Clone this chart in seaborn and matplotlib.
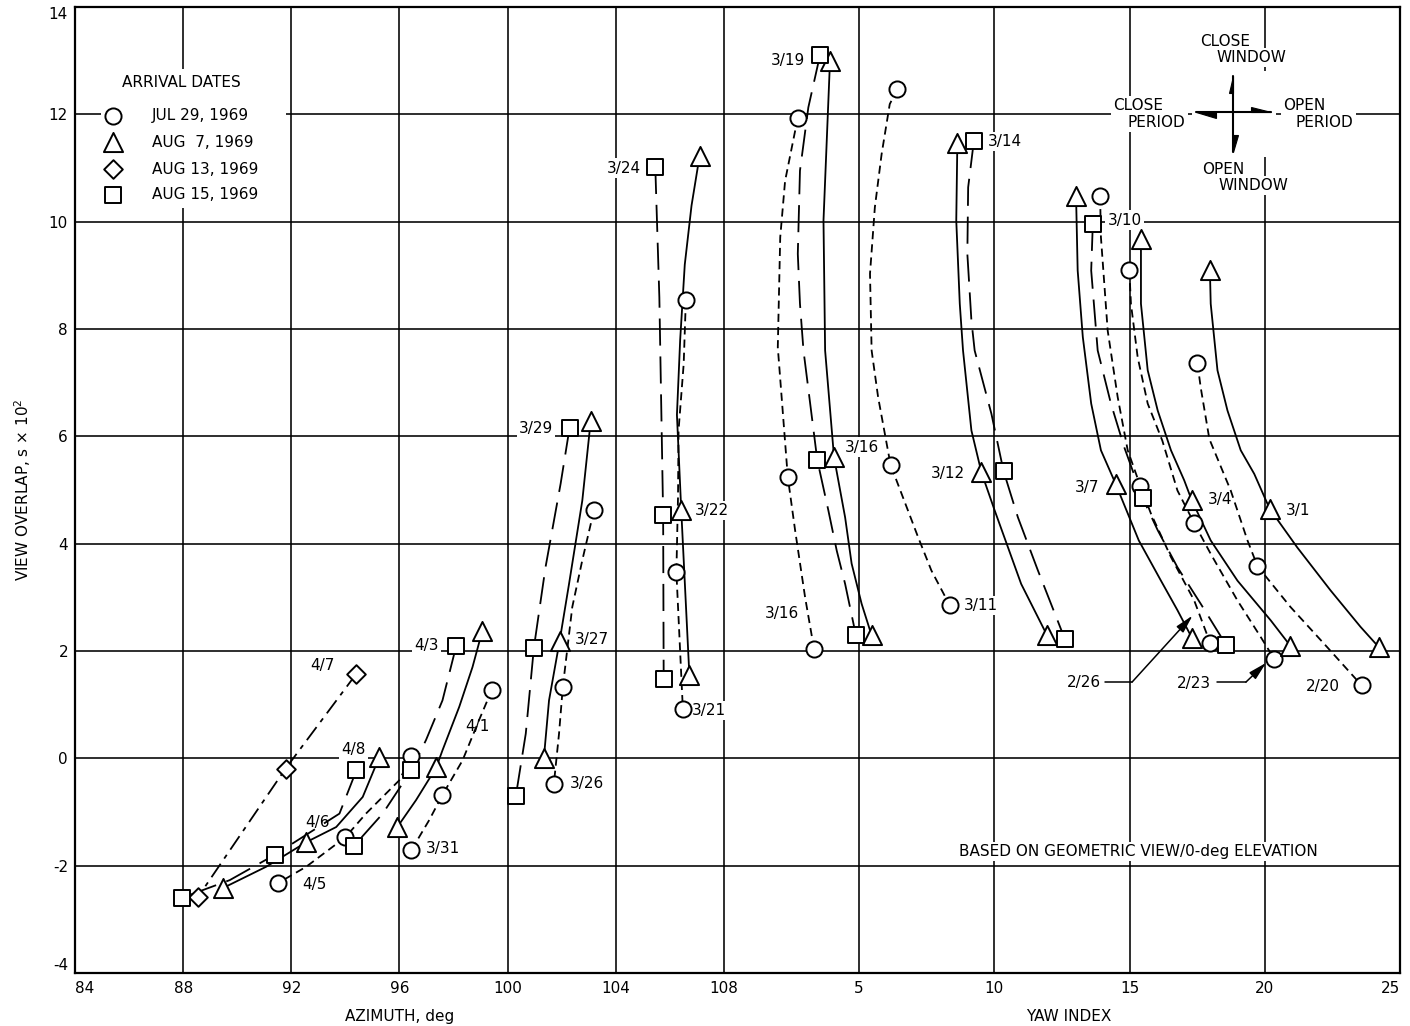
import matplotlib
matplotlib.use("Agg")
import matplotlib.pyplot as plt
import numpy as np
import pandas as pd
import seaborn as sns
from matplotlib.patches import Polygon, Rectangle

# ---------------- data (x: azimuth deg 84..108, then 108 + yaw index) ----------------
SERIES_NAMES = ["JUL 29, 1969", "AUG  7, 1969", "AUG 13, 1969", "AUG 15, 1969"]
SERIES_MARKERS = ["o", "^", "D", "s"]
MARKER_SIZES = [135, 190, 90, 120]
DASHES = {"JUL 29, 1969": (4.5, 2.8), "AUG  7, 1969": "",
          "AUG 13, 1969": (9, 3.5, 2.5, 3.5), "AUG 15, 1969": (15, 6)}

# each curve: (x, y, marked)
JUL29_CURVES = [
    [(96.44, 0.04, 1), (95.99, -0.41, 0), (94.76, -1.03, 0), (94.00, -1.47, 1), (92.55, -2.02, 0), (91.49, -2.33, 1)],
    [(99.42, 1.28, 1), (98.94, 0.71, 0), (98.33, -0.04, 0), (97.58, -0.69, 1), (97.10, -1.15, 0), (96.44, -1.71, 1)],
    [(103.19, 4.62, 1), (102.76, 3.69, 0), (102.39, 2.82, 0), (102.04, 1.33, 1), (101.90, 0.46, 0), (101.71, -0.47, 1)],
    [(106.59, 8.54, 1), (106.51, 7.35, 0), (106.32, 6.11, 0), (106.30, 4.87, 0), (106.24, 3.47, 1), (106.48, 0.91, 1)],
    [(110.73, 11.94, 1), (110.26, 10.76, 0), (110.08, 9.71, 0), (109.99, 7.66, 0), (110.36, 5.24, 1),
     (110.63, 4.25, 0), (111.00, 3.00, 0), (111.33, 2.04, 1)],
    [(114.41, 12.47, 1), (114.13, 12.19, 0), (113.83, 11.26, 0), (113.58, 10.27, 0), (113.40, 9.03, 0),
     (113.46, 7.60, 0), (113.70, 6.73, 0), (114.16, 5.47, 1), (115.18, 4.12, 0), (115.67, 3.50, 0), (116.35, 2.85, 1)],
    [(121.91, 10.48, 1), (121.94, 9.71, 0), (122.19, 7.97, 0), (122.56, 6.73, 0), (122.93, 5.74, 0), (123.40, 5.07, 1),
     (123.79, 4.56, 0), (124.53, 3.75, 0), (125.39, 2.94, 0), (125.98, 2.15, 1)],
    [(122.99, 9.10, 1), (123.05, 8.47, 0), (123.30, 7.47, 0), (123.67, 6.61, 0), (124.21, 5.92, 0), (124.77, 4.99, 0),
     (125.39, 4.38, 1), (126.00, 3.81, 0), (126.99, 2.94, 0), (127.85, 2.26, 0), (128.34, 1.86, 1)],
    [(125.51, 7.36, 1), (125.63, 6.91, 0), (125.95, 5.95, 0), (126.74, 4.99, 0), (127.36, 4.06, 0), (127.73, 3.58, 1),
     (128.95, 2.82, 0), (130.31, 2.07, 0), (131.58, 1.36, 1)],
]
AUG07_CURVES = [
    [(95.25, 0.02, 1), (94.64, -0.72, 0), (93.66, -1.28, 0), (92.56, -1.56, 1), (91.07, -2.02, 0), (89.46, -2.42, 1)],
    [(99.06, 2.37, 1), (98.70, 1.70, 0), (98.21, 0.96, 0), (97.59, 0.15, 0), (97.36, -0.17, 1), (96.61, -0.78, 0), (95.92, -1.28, 1)],
    [(103.07, 6.28, 1), (102.76, 4.80, 0), (102.27, 3.25, 0), (101.92, 2.18, 1), (101.53, 1.08, 0), (101.34, 0.01, 1)],
    [(107.10, 11.23, 1), (106.80, 10.30, 0), (106.55, 9.20, 0), (106.38, 7.80, 0), (106.26, 6.40, 0), (106.42, 4.62, 1), (106.72, 1.55, 1)],
    [(111.92, 12.99, 1), (111.68, 10.02, 0), (111.74, 7.60, 0), (112.07, 5.61, 1), (112.48, 4.49, 0), (112.72, 3.63, 0),
     (113.09, 2.88, 0), (113.46, 2.29, 1)],
    [(116.63, 11.46, 1), (116.59, 10.02, 0), (116.72, 8.47, 0), (116.84, 7.60, 0), (117.15, 6.11, 0), (117.52, 5.33, 1),
     (118.01, 4.62, 0), (118.99, 3.25, 0), (119.95, 2.29, 1)],
    [(121.02, 10.48, 1), (121.08, 9.09, 0), (121.27, 7.85, 0), (121.58, 6.61, 0), (121.94, 5.74, 0), (122.48, 5.12, 1),
     (123.34, 4.06, 0), (124.16, 3.31, 0), (124.77, 2.76, 0), (125.30, 2.25, 1)],
    [(123.42, 9.68, 1), (123.42, 8.47, 0), (123.67, 7.23, 0), (124.04, 6.48, 0), (124.53, 5.74, 0), (125.02, 5.18, 0),
     (125.29, 4.82, 1), (126.00, 4.06, 0), (126.99, 3.31, 0), (128.22, 2.57, 0), (128.94, 2.10, 1)],
    [(125.97, 9.10, 1), (126.00, 8.47, 0), (126.25, 7.23, 0), (126.62, 6.48, 0), (127.11, 5.74, 0), (127.61, 5.30, 0),
     (128.18, 4.65, 1), (129.20, 3.93, 0), (130.43, 3.13, 0), (131.54, 2.45, 0), (132.22, 2.07, 1)],
]
AUG13_CURVES = [
    [(94.41, 1.58, 1), (91.79, -0.19, 1), (88.54, -2.59, 1)],
]
AUG15_CURVES = [
    [(94.41, -0.22, 1), (93.78, -1.03, 0), (91.38, -1.80, 1), (89.72, -2.27, 0), (87.95, -2.60, 1)],
    [(98.10, 2.10, 1), (97.59, 1.08, 0), (96.98, 0.34, 0), (96.44, -0.22, 1), (95.38, -1.03, 0), (94.30, -1.64, 1)],
    [(102.29, 6.16, 1), (101.96, 5.12, 0), (101.40, 3.56, 0), (100.97, 2.06, 1), (100.67, 0.46, 0), (100.30, -0.71, 1)],
    [(105.46, 11.02, 1), (105.61, 8.59, 0), (105.75, 4.53, 1), (105.77, 1.48, 1)],
    [(111.55, 13.10, 1), (111.12, 12.13, 0), (110.81, 10.95, 0), (110.73, 9.40, 0), (110.81, 8.47, 0), (110.94, 7.60, 0),
     (111.45, 5.56, 1), (111.86, 4.62, 0), (112.17, 3.87, 0), (112.48, 3.25, 0), (112.88, 2.29, 1)],
    [(117.24, 11.50, 1), (117.03, 10.64, 0), (117.00, 9.40, 0), (117.15, 8.16, 0), (117.27, 7.60, 0), (117.89, 6.42, 0),
     (118.34, 5.35, 1), (118.87, 4.49, 0), (119.61, 3.50, 0), (120.60, 2.23, 1)],
    [(121.64, 9.96, 1), (121.58, 9.09, 0), (121.82, 7.60, 0), (122.31, 6.61, 0), (122.80, 5.80, 0), (123.48, 4.85, 1),
     (124.04, 4.25, 0), (124.77, 3.56, 0), (125.63, 2.88, 0), (126.56, 2.12, 1)],
]

DATE_LABELS = ["4/7", "4/8", "4/6", "4/5", "3/31", "4/1", "4/3", "3/29", "3/27", "3/26", "3/22", "3/21",
               "3/24", "3/19", "3/14", "3/16", "3/16", "3/11", "3/12", "3/10", "3/7", "3/4", "3/1",
               "2/26", "2/23", "2/20"]
DATE_LABEL_X = [93.15, 94.30, 92.97, 92.86, 97.62, 98.87, 96.99, 101.04, 103.13, 102.94, 107.55, 107.45,
                104.30, 110.38, 118.38, 113.09, 110.14, 117.49, 116.29, 122.81, 121.42, 126.36, 129.24,
                121.30, 125.37, 130.13]
DATE_LABEL_Y = [1.73, 0.17, -1.19, -2.35, -1.68, 0.60, 2.10, 6.14, 2.21, -0.47, 4.62, 0.89,
                11.00, 13.01, 11.50, 5.80, 2.69, 2.85, 5.30, 10.03, 5.05, 4.82, 4.62,
                1.42, 1.40, 1.33]

ARROW_26 = [(122.10, 1.42), (123.09, 1.42), (125.33, 2.66)]
ARROW_23 = [(126.25, 1.42), (127.30, 1.42), (128.05, 1.78)]

X_TICKS = [84, 88, 92, 96, 100, 104, 108, 113, 118, 123, 128, 133]
X_TICK_LABELS = ["84", "88", "92", "96", "100", "104", "108", "5", "10", "15", "20", "25"]
Y_TICKS = [-4, -2, 0, 2, 4, 6, 8, 10, 12, 14]

# ---------------- build tables ----------------
rows = []
for name, curves in zip(SERIES_NAMES, [JUL29_CURVES, AUG07_CURVES, AUG13_CURVES, AUG15_CURVES]):
    for ci, curve in enumerate(curves):
        for k, (x, y, m) in enumerate(curve):
            rows.append(dict(series=name, curve=f"{name}-{ci}", x=x, y=y, marked=m, order=k))
paths = pd.DataFrame(rows)
marks = paths[paths["marked"] == 1]

# ---------------- figure ----------------
sns.set_style("white")
plt.rcParams["font.family"] = ["DejaVu Sans"]
plt.rcParams["font.size"] = 11
plt.rcParams["text.color"] = "black"
plt.rcParams["axes.labelcolor"] = "black"
plt.rcParams["xtick.color"] = "black"
plt.rcParams["ytick.color"] = "black"

fig = plt.figure(figsize=(14.1, 10.26), dpi=100)
ax = fig.add_axes([75 / 1410, 53 / 1026, 1325 / 1410, 966 / 1026])
ax.set_xlim(84, 133)
ax.set_ylim(-4, 14)
ax.set_axisbelow(True)
ax.grid(True, color="black", linewidth=1.15)

sns.lineplot(data=paths, x="x", y="y", units="curve", style="series", style_order=SERIES_NAMES,
             dashes=DASHES, estimator=None, sort=False, color="black", linewidth=1.3,
             legend=False, ax=ax, zorder=2)

for name, mk, sz in zip(SERIES_NAMES, SERIES_MARKERS, MARKER_SIZES):
    sub = marks[marks["series"] == name]
    sns.scatterplot(data=sub, x="x", y="y", marker=mk, s=sz, color="white", edgecolor="black",
                    linewidth=1.4, zorder=4, legend=False, ax=ax)

# date labels
for t, x, y in zip(DATE_LABELS, DATE_LABEL_X, DATE_LABEL_Y):
    ax.text(x, y, t, ha="center", va="center", fontsize=11, color="black", zorder=1.5,
            bbox=dict(facecolor="white", edgecolor="none", pad=1.5))

# pointer arrows for 2/26 and 2/23
for pts in (ARROW_26, ARROW_23):
    ax.plot([pts[0][0], pts[1][0]], [pts[0][1], pts[1][1]], color="black", lw=1.1, zorder=3)
    ax.annotate("", xy=pts[2], xytext=pts[1],
                arrowprops=dict(arrowstyle="-|>,head_length=1.0,head_width=0.25", color="black",
                                lw=1.1, shrinkA=0, shrinkB=0), zorder=3)

# legend (manual, white background)
ax.add_patch(Rectangle((84.95, 10.25), 6.85, 2.6, facecolor="white", edgecolor="none", zorder=1.2))
ax.text(87.92, 12.59, "ARRIVAL DATES", ha="center", va="center", fontsize=11, color="black", zorder=5)
for i, (name, mk, sz) in enumerate(zip(SERIES_NAMES, SERIES_MARKERS, MARKER_SIZES)):
    yy = [11.97, 11.48, 10.98, 10.50][i]
    ax.scatter([85.41], [yy], marker=mk, s=sz, facecolor="white", edgecolor="black", linewidth=1.4, zorder=5)
    ax.text(86.85, yy, name, ha="left", va="center", fontsize=11, color="black", zorder=5)

# compass annotation
ax.add_patch(Rectangle((125.3, 11.2), 3.1, 1.6, facecolor="white", edgecolor="none", zorder=1.2))
tb = dict(facecolor="white", edgecolor="none", pad=1.5)
for t, x, y in [("CLOSE", 126.52, 13.36), ("WINDOW", 127.51, 13.06), ("CLOSE", 123.32, 12.16),
                ("PERIOD", 124.00, 11.85), ("OPEN", 129.45, 12.16), ("PERIOD", 130.21, 11.85),
                ("OPEN", 126.46, 10.98), ("WINDOW", 127.57, 10.67)]:
    ax.text(x, y, t, ha="center", va="center", fontsize=11, color="black", zorder=1.5, bbox=tb)
ax.plot([126.83, 126.83], [11.30, 12.72], color="black", lw=1.5, zorder=3)
ax.plot([125.45, 128.22], [12.04, 12.04], color="black", lw=1.5, zorder=3)
for poly in ([(126.83, 12.72), (126.83, 12.40), (126.66, 12.40)],
             [(126.83, 11.30), (126.83, 11.62), (127.02, 11.62)],
             [(128.22, 12.04), (127.48, 12.04), (127.48, 12.14)],
             [(125.45, 12.04), (126.19, 12.04), (126.19, 11.93)]):
    ax.add_patch(Polygon(poly, closed=True, facecolor="black", edgecolor="black", lw=0.8, zorder=3))

ax.text(123.34, -1.73, "BASED ON GEOMETRIC VIEW/0-deg ELEVATION", ha="center", va="center",
        fontsize=11, color="black", zorder=1.5, bbox=dict(facecolor="white", edgecolor="none", pad=1.5))

# axes styling
ax.set_xticks(X_TICKS)
ax.set_xticklabels(X_TICK_LABELS)
ax.set_yticks(Y_TICKS)
ax.set_yticklabels([str(v) for v in Y_TICKS])
ax.tick_params(axis="both", length=0, labelsize=11, colors="black", labelcolor="black")
ax.tick_params(axis="x", pad=6)
ax.tick_params(axis="y", pad=5)
xl = ax.get_xticklabels()
xl[0].set_ha("left")
xl[-1].set_ha("right")
yl = ax.get_yticklabels()
yl[0].set_va("bottom")
yl[-1].set_va("top")
for s in ax.spines.values():
    s.set_color("black")
    s.set_linewidth(1.6)

ax.set_xlabel("")
ax.set_ylabel("VIEW OVERLAP, s × 10$^2$", fontsize=11, color="black")
ax.yaxis.set_label_coords(-0.032, 0.5)
ax.annotate("AZIMUTH, deg", xy=(96.0, -0.045), xycoords=("data", "axes fraction"),
            ha="center", va="center", fontsize=11, color="black")
ax.annotate("YAW INDEX", xy=(120.75, -0.045), xycoords=("data", "axes fraction"),
            ha="center", va="center", fontsize=11, color="black")

fig.savefig("out.png", dpi=100, facecolor="white")
